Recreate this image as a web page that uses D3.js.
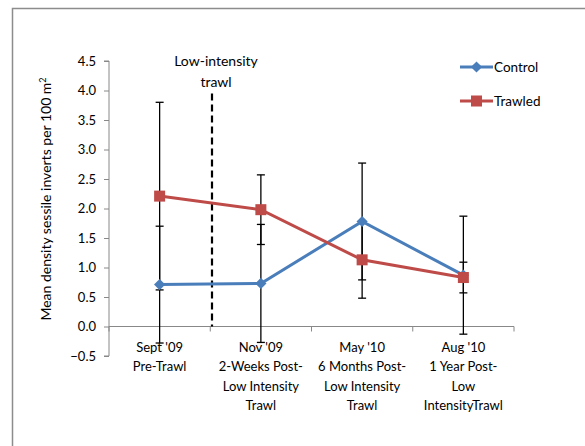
<!DOCTYPE html>
<html>
<head>
<meta charset="utf-8">
<script src="https://cdn.jsdelivr.net/npm/d3@7"></script>
<style>
  html, body { margin: 0; padding: 0; background: #fff; }
  svg { display: block; }
  text { font-family: Lato, "Liberation Sans", sans-serif; fill: #000; }
</style>
</head>
<body>
<svg id="chart" width="585" height="446"></svg>
<script>
// Sampling periods (multi-line labels)
const categories = [
  ["Sept '09", "Pre-Trawl"],
  ["Nov '09", "2-Weeks Post-", "Low Intensity", "Trawl"],
  ["May '10", "6 Months  Post-", "Low Intensity", "Trawl"],
  ["Aug '10", "1 Year Post-", "Low", "IntensityTrawl"]
];
const controlMean = [0.71, 0.73, 1.78, 0.87];
const controlErr  = [0.99, 1.00, 0.99, 1.00];
const trawledMean = [2.21, 1.98, 1.13, 0.83];
const trawledErr  = [1.59, 0.59, 0.65, 0.26];
const yTicks = [-0.5, 0, 0.5, 1, 1.5, 2, 2.5, 3, 3.5, 4, 4.5];

const svg = d3.select("#chart");

// Outer frame
svg.append("path")
  .attr("d", "M12.5,446 V8.5 H585")
  .attr("fill", "none").attr("stroke", "#8c8c8c").attr("stroke-width", 1.5);

const plot = { left: 109, right: 514, top: 61, bottom: 356 };

const x = d3.scaleBand().domain(d3.range(categories.length))
  .range([plot.left, plot.right]).paddingInner(0).paddingOuter(0);
const y = d3.scaleLinear().domain([-0.5, 4.5]).range([plot.bottom, plot.top]);
const cx = i => x(i) + x.bandwidth() / 2;

// Y axis
const yAxis = svg.append("g").attr("transform", `translate(${plot.left},0)`)
  .call(d3.axisLeft(y).tickValues(yTicks).tickFormat(d3.format(".1f")).tickSize(5).tickPadding(8));
yAxis.select(".domain").attr("stroke", "#888").attr("d", `M-5,${y(4.5)}H0V${y(-0.5)}H-5`);
yAxis.selectAll(".tick line").attr("stroke", "#888");
yAxis.selectAll(".tick text").attr("font-size", 13).attr("fill", "#000")
  .style("font-family", "Lato, 'Liberation Sans', sans-serif");

// X axis at zero
const xAxisY = y(0);
const xg = svg.append("g");
xg.append("line").attr("x1", plot.left).attr("x2", plot.right)
  .attr("y1", xAxisY).attr("y2", xAxisY).attr("stroke", "#888");
xg.selectAll("line.tk").data(d3.range(categories.length + 1)).join("line")
  .attr("class", "tk")
  .attr("x1", i => plot.left + i * x.bandwidth()).attr("x2", i => plot.left + i * x.bandwidth())
  .attr("y1", xAxisY).attr("y2", xAxisY + 5).attr("stroke", "#888");

// Category labels
categories.forEach((lines, i) => {
  const t = svg.append("text").attr("text-anchor", "middle").attr("font-size", 13);
  lines.forEach((ln, k) => {
    t.append("tspan").attr("x", cx(i)).attr("y", 352 + k * 19.3).text(ln);
  });
});

// Y axis title
svg.append("text")
  .attr("transform", `translate(51,199) rotate(-90)`)
  .attr("text-anchor", "middle").attr("font-size", 14)
  .html('Mean density  sessile inverts per 100 m<tspan dy="-5" font-size="9">2</tspan>');

// Trawl event marker
svg.append("line")
  .attr("x1", 212).attr("x2", 212)
  .attr("y1", y(4.0) + 3).attr("y2", xAxisY)
  .attr("stroke", "#000").attr("stroke-width", 2.2).attr("stroke-dasharray", "7,4");
svg.append("text").attr("text-anchor", "middle").attr("font-size", 14)
  .selectAll("tspan").data(["Low-intensity", "trawl"]).join("tspan")
  .attr("x", 216).attr("y", (d, k) => 66 + k * 21).text(d => d);

// Error bars
function errorBars(mean, err) {
  const g = svg.append("g").attr("stroke", "#000").attr("stroke-width", 1.3);
  mean.forEach((m, i) => {
    const xx = cx(i), lo = y(m - err[i]), hi = y(m + err[i]);
    g.append("line").attr("x1", xx).attr("x2", xx).attr("y1", lo).attr("y2", hi);
    g.append("line").attr("x1", xx - 4).attr("x2", xx + 4).attr("y1", lo).attr("y2", lo);
    g.append("line").attr("x1", xx - 4).attr("x2", xx + 4).attr("y1", hi).attr("y2", hi);
  });
}
errorBars(controlMean, controlErr);
errorBars(trawledMean, trawledErr);

const line = d3.line().x((d, i) => cx(i)).y(d => y(d));
const blue = "#4a7ebb", red = "#be4b48";

// Control series
svg.append("path").datum(controlMean).attr("d", line)
  .attr("fill", "none").attr("stroke", blue).attr("stroke-width", 3);
// Trawled series
svg.append("path").datum(trawledMean).attr("d", line)
  .attr("fill", "none").attr("stroke", red).attr("stroke-width", 3);

const diamond = d3.symbol().type(d3.symbolDiamond2).size(80);
svg.append("g").selectAll("path").data(controlMean).join("path")
  .attr("d", diamond)
  .attr("transform", (d, i) => `translate(${cx(i)},${y(d)})`)
  .attr("fill", blue);
svg.append("g").selectAll("rect").data(trawledMean).join("rect")
  .attr("x", (d, i) => cx(i) - 5.5).attr("y", d => y(d) - 5.5)
  .attr("width", 11).attr("height", 11).attr("fill", red);

// Legend
const legend = [["Control", blue, "diamond"], ["Trawled", red, "square"]];
legend.forEach(([name, col, shape], k) => {
  const ly = 67 + k * 34;
  svg.append("line").attr("x1", 460).attr("x2", 493).attr("y1", ly).attr("y2", ly)
    .attr("stroke", col).attr("stroke-width", 3);
  if (shape === "diamond") {
    svg.append("path").attr("d", diamond).attr("transform", `translate(476.5,${ly})`).attr("fill", col);
  } else {
    svg.append("rect").attr("x", 471).attr("y", ly - 5.5).attr("width", 11).attr("height", 11).attr("fill", col);
  }
  svg.append("text").attr("x", 494).attr("y", ly + 5).attr("font-size", 13.5).text(name);
});
</script>
</body>
</html>
